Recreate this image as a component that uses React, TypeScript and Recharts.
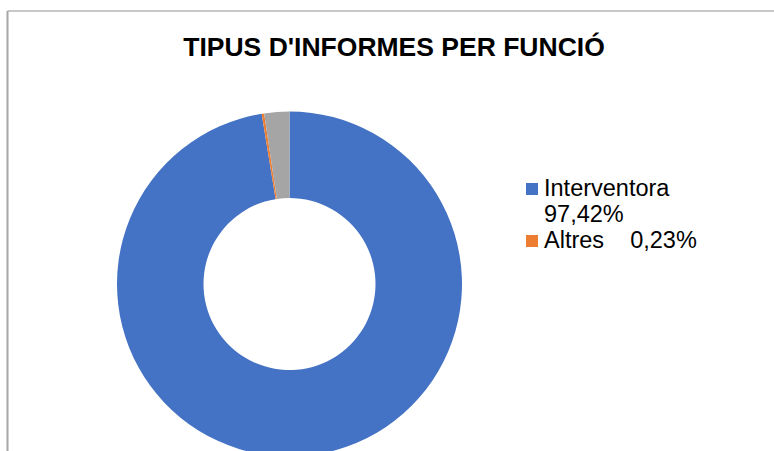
import { PieChart, Pie, Cell, Legend } from 'recharts'

// report types by role (share of total, %)
const categories = ['Interventora', 'Altres', 'Secretaria']
const shares = [97.42, 0.23, 2.35]
const legendLabels = ['97,42%', '0,23%']
const colors = ['#4472C4', '#ED7D31', '#A5A5A5']

const data = categories.map((name, i) => ({ name, value: shares[i] }))

const font = '"Liberation Sans", Arial, sans-serif'

function ChartLegend() {
    // only the first two entries fit inside the visible area
    return (
        <div style={{ fontFamily: font, fontSize: 23.5, lineHeight: '26px', color: '#000', width: 190 }}>
            {categories.slice(0, 2).map((name, i) => (
                <div key={name} style={{ position: 'relative', paddingLeft: 18 }}>
                    <span
                        style={{
                            position: 'absolute',
                            left: 0,
                            top: 8,
                            width: 12,
                            height: 12,
                            background: colors[i],
                        }}
                    />
                    <span style={{ whiteSpace: 'pre-wrap' }}>
                        {name + (i === 0 ? ' ' : '    ') + legendLabels[i]}
                    </span>
                </div>
            ))}
        </div>
    )
}

export default function App() {
    return (
        <div style={{ position: 'fixed', left: 0, top: 0, width: 774, height: 451, overflow: 'hidden', background: '#fff' }}>
            <svg width={774} height={451} style={{ position: 'absolute', left: 0, top: 0 }}>
                <line x1={7.5} y1={11} x2={774} y2={11} stroke="#8f8f8f" strokeWidth={1} />
                <line x1={7.5} y1={11} x2={7.5} y2={451} stroke="#a6a6a6" strokeWidth={2} />
            </svg>
            <div
                style={{
                    position: 'absolute',
                    left: 0,
                    top: 32,
                    width: 788,
                    textAlign: 'center',
                    fontFamily: font,
                    fontWeight: 'bold',
                    fontSize: 26.5,
                    color: '#000',
                }}
            >
                TIPUS D'INFORMES PER FUNCIÓ
            </div>
            <PieChart
                width={774}
                height={451}
                margin={{ top: 0, right: 0, bottom: 0, left: 0 }}
                style={{ position: 'absolute', left: 0, top: 0 }}
            >
                <Pie
                    data={data}
                    dataKey="value"
                    nameKey="name"
                    cx={289.5}
                    cy={284}
                    outerRadius={172.5}
                    innerRadius={86}
                    startAngle={90}
                    endAngle={-270}
                    stroke="none"
                    isAnimationActive={false}
                >
                    {data.map((d, i) => (
                        <Cell key={d.name} fill={colors[i]} />
                    ))}
                </Pie>
                <Legend
                    layout="vertical"
                    content={<ChartLegend />}
                    wrapperStyle={{ position: 'absolute', left: 526, top: 175, width: 190 }}
                />
            </PieChart>
        </div>
    )
}
